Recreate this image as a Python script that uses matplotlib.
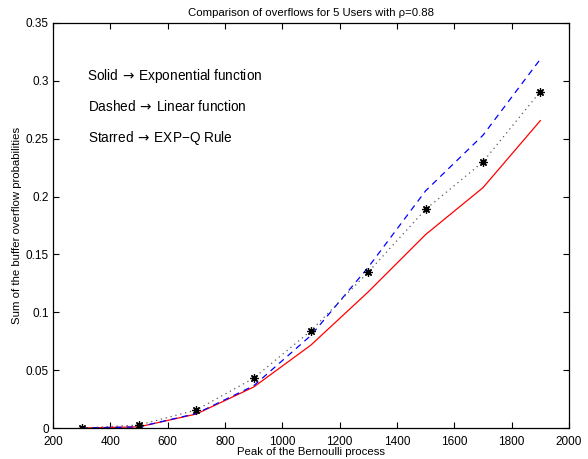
import matplotlib
matplotlib.use("Agg")
import matplotlib.pyplot as plt

plt.rcParams["font.family"] = ["Liberation Sans", "DejaVu Sans"]

peak = [300, 500, 700, 900, 1100, 1300, 1500, 1700, 1900]
exp_fn = [0.0, 0.001, 0.0121, 0.0354, 0.0717, 0.1177, 0.1672, 0.2077, 0.2656]
lin_fn = [0.0, 0.001, 0.0125, 0.0365, 0.0800, 0.1390, 0.2050, 0.2530, 0.3187]
expq = [0.0, 0.0026, 0.0156, 0.0430, 0.0841, 0.1348, 0.1890, 0.2300, 0.2907]

fig = plt.figure(figsize=(5.88, 4.59), dpi=100)
ax = fig.add_axes([0.0901, 0.0675, 0.8776, 0.8825])

ax.plot(peak, exp_fn, color="red", lw=0.9)
ax.plot(peak, lin_fn, color="blue", lw=0.9, ls=(0, (5, 4)))
ax.plot(peak, expq, color="0.35", lw=0.9, ls=(0, (1, 3)))
ax.plot(peak, expq, ls="none", marker=(8, 2, 0), color="black", ms=6, mew=0.9)

ax.set_xlim(200, 2000)
ax.set_ylim(0, 0.35)
ax.set_xticks(range(200, 2001, 200))
ax.set_yticks([0, 0.05, 0.1, 0.15, 0.2, 0.25, 0.3, 0.35])
ax.set_yticklabels(["0", "0.05", "0.1", "0.15", "0.2", "0.25", "0.3", "0.35"])
ax.tick_params(direction="in", top=True, right=True, labelsize=8.5, length=4)
ax.tick_params(axis="x", pad=6)
ax.tick_params(axis="y", pad=3)
for s in ax.spines.values():
    s.set_linewidth(0.9)

ax.set_title("Comparison of overflows for 5 Users with \u03c1=0.88", fontsize=8.2, pad=5)
ax.set_xlabel("Peak of the Bernoulli process", fontsize=8.2, labelpad=-1)
ax.set_ylabel("Sum of the buffer overflow probabilities", fontsize=8.2, labelpad=3)

arrow = "$\\,\\rightarrow\\,$"
ax.text(317, 0.304, "Solid" + arrow + "Exponential function", fontsize=9.8, va="center")
ax.text(322, 0.278, "Dashed" + arrow + "Linear function", fontsize=9.8, va="center")
ax.text(322, 0.251, "Starred" + arrow + "EXP\u2212Q Rule", fontsize=9.8, va="center")

fig.savefig("out.png", dpi=100)
